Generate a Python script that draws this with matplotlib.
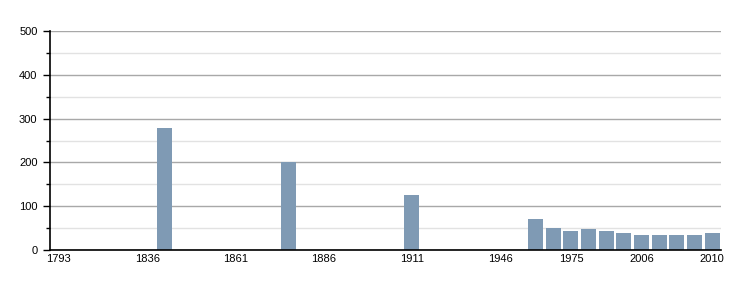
import matplotlib
matplotlib.use("Agg")
import matplotlib.pyplot as plt
from matplotlib.ticker import MultipleLocator

years = [1793, 1800, 1806, 1821, 1831, 1836, 1841, 1846, 1851, 1856,
         1861, 1866, 1872, 1876, 1881, 1886, 1891, 1896, 1901, 1906,
         1911, 1921, 1926, 1931, 1936, 1946, 1954, 1962, 1968, 1975,
         1982, 1990, 1999, 2006, 2007, 2008, 2009, 2010]
#0 = no census value shown
population = [0, 0, 0, 0, 0, 0, 278, 0, 0, 0,
              0, 0, 0, 200, 0, 0, 0, 0, 0, 0,
              126, 0, 0, 0, 0, 0, 0, 71, 50, 43,
              48, 43, 39, 34, 34, 34, 34, 39]
shown_labels = [1793, 1836, 1861, 1886, 1911, 1946, 1975, 2006, 2010]

plt.rcParams['font.family'] = ['Liberation Sans', 'DejaVu Sans']

fig = plt.figure(figsize=(7.5, 3.0), dpi=100)
ax = fig.add_axes([50/750, 50/300, 671/750, 219/300])

xs = list(range(len(years)))
ax.bar(xs, population, width=0.85, color='#7f9ab4', zorder=3)

ax.set_xlim(-0.5, len(years) - 0.5)
ax.set_ylim(0, 500)

ax.yaxis.set_major_locator(MultipleLocator(100))
ax.yaxis.set_minor_locator(MultipleLocator(50))
ax.grid(axis='y', which='major', color='#a8a8a8', linewidth=1.0, zorder=1)
ax.grid(axis='y', which='minor', color='#e2e2e2', linewidth=1.0, zorder=1)

tick_pos = [years.index(y) for y in shown_labels]
ax.set_xticks(tick_pos)
ax.set_xticklabels([str(y) for y in shown_labels])
ax.tick_params(axis='x', length=0, pad=3, labelsize=8)
ax.tick_params(axis='y', which='major', length=5, width=1, pad=4, labelsize=8)
ax.tick_params(axis='y', which='minor', length=3, width=1)

for side in ['top', 'right']:
    ax.spines[side].set_visible(False)
ax.spines['left'].set_linewidth(1.2)
ax.spines['bottom'].set_linewidth(1.2)
ax.spines['left'].set_zorder(4)
ax.spines['bottom'].set_zorder(4)

fig.savefig("out.png", dpi=100)
